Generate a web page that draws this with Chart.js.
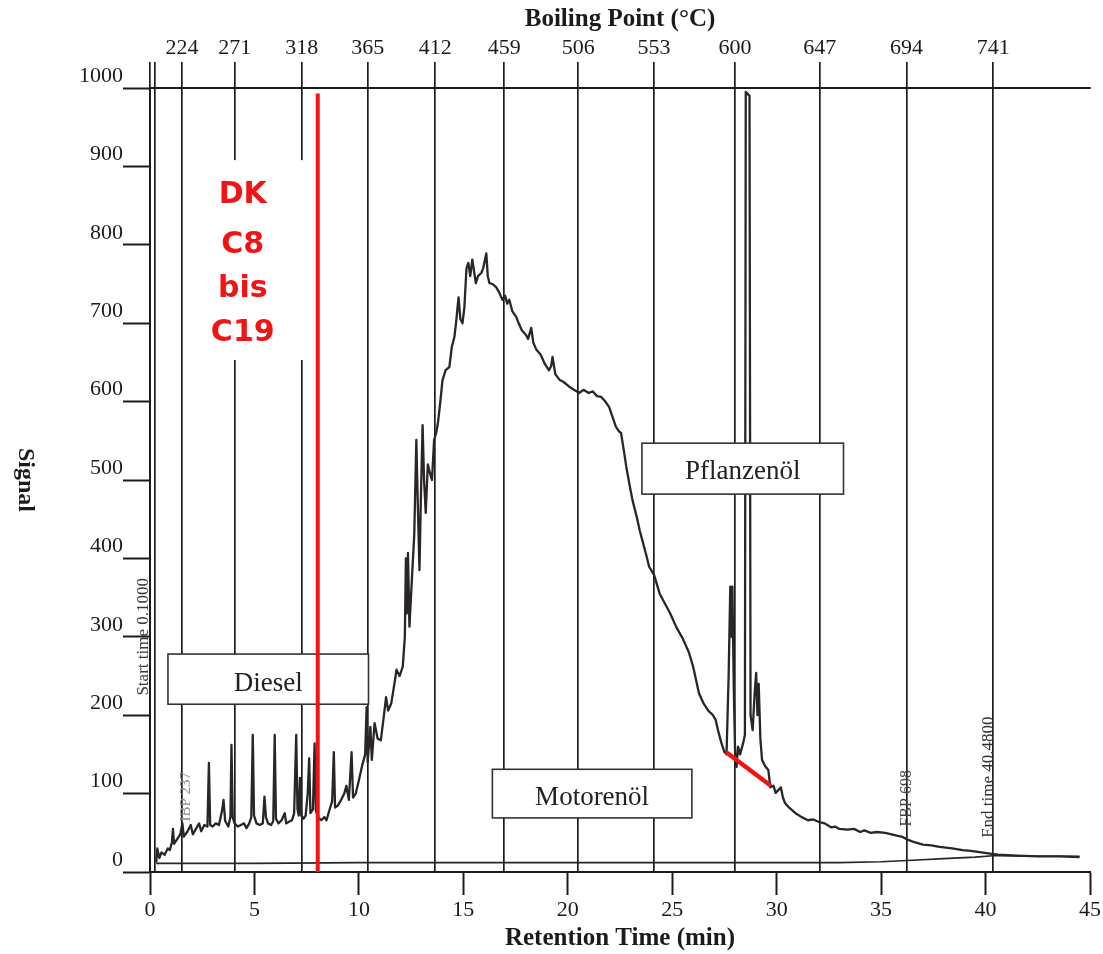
<!DOCTYPE html>
<html><head><meta charset="utf-8">
<script src="https://cdn.jsdelivr.net/npm/chart.js@4.4.1/dist/chart.umd.min.js"></script>
<style>html,body{margin:0;padding:0;background:#fff}#wrap{width:1103px;height:954px;position:relative}</style>
</head><body><div id="wrap"><canvas id="c"></canvas></div>
<script>
// ---- data ----
const retentionTime = [
0.30,0.35,0.45,0.55,0.70,0.85,0.95,1.05,1.10,1.15,1.30,1.45,1.55,1.62,1.80,1.95,2.05,2.20,2.35,2.45,
2.60,2.75,2.82,2.88,3.00,3.15,3.30,3.45,3.52,3.60,3.75,3.85,3.90,3.96,4.05,4.20,4.35,4.50,4.62,4.75,
4.85,4.92,4.98,5.10,5.25,5.40,5.48,5.55,5.65,5.80,5.90,5.97,6.03,6.15,6.30,6.45,6.52,6.65,6.80,6.90,
7.00,7.06,7.12,7.18,7.24,7.35,7.45,7.55,7.62,7.68,7.80,7.88,7.94,8.05,8.20,8.35,8.45,8.60,8.72,8.80,
8.86,9.00,9.15,9.30,9.40,9.52,9.65,9.72,9.85,10.00,10.15,10.30,10.37,10.42,10.55,10.62,10.75,10.90,11.05,11.20,
11.30,11.40,11.55,11.70,11.80,11.95,12.10,12.20,12.25,12.30,12.35,12.42,12.55,12.65,12.75,12.82,12.90,12.97,13.05,13.12,
13.20,13.30,13.40,13.50,13.60,13.70,13.78,13.90,14.00,14.15,14.33,14.45,14.57,14.65,14.77,14.86,14.96,15.05,15.15,15.24,
15.33,15.43,15.52,15.60,15.70,15.86,15.95,16.10,16.17,16.25,16.40,16.57,16.70,16.87,17.00,17.10,17.20,17.35,17.53,17.65,
17.80,18.00,18.10,18.25,18.35,18.50,18.70,18.90,19.10,19.20,19.27,19.40,19.60,19.80,20.07,20.30,20.55,20.75,21.00,21.20,
21.40,21.60,21.80,21.98,22.15,22.30,22.45,22.55,22.70,22.80,22.95,23.10,23.30,23.45,23.57,23.75,23.90,24.13,24.40,24.70,
24.90,25.20,25.50,25.80,26.00,26.28,26.50,26.75,26.95,27.08,27.20,27.35,27.50,27.60,27.70,27.78,27.84,27.88,27.95,28.02,
28.08,28.15,28.25,28.40,28.48,28.52,28.70,28.75,28.85,28.95,29.02,29.08,29.14,29.22,29.30,29.45,29.60,29.70,29.85,29.95,
30.10,30.20,30.30,30.40,30.60,30.90,31.20,31.50,31.75,32.00,32.30,32.60,32.80,33.00,33.40,33.70,34.00,34.20,34.50,34.80,
35.20,35.50,35.80,36.00,36.30,36.60,37.00,37.40,37.80,38.40,38.90,39.30,39.80,40.30,40.60,41.50,42.50,43.50,44.50
];
const signal = [
12,30,18,25,22,30,28,38,55,36,42,48,62,45,52,60,48,55,62,52,
60,58,139,60,58,62,60,78,92,65,58,70,162,70,62,58,60,62,56,62,
70,175,72,62,60,62,96,70,62,60,65,175,68,62,66,75,62,64,66,75,
175,80,72,120,72,68,72,100,145,75,80,164,78,70,66,70,66,80,90,153,
82,85,92,100,110,92,153,95,100,117,135,150,210,140,185,143,190,170,168,200,
223,206,215,240,258,250,262,300,400,330,407,313,380,430,551,470,385,480,570,500,
458,520,509,500,551,560,572,600,627,640,644,670,682,700,733,705,700,720,770,777,
760,781,765,751,760,764,770,789,760,751,750,746,740,730,735,725,730,715,708,700,
691,685,680,694,675,666,660,648,640,645,657,635,628,625,619,615,611,615,611,613,
607,606,600,593,580,568,562,560,535,517,495,474,453,435,423,405,389,379,355,340,
330,312,298,280,262,228,215,205,200,194,180,165,153,150,250,364,300,364,230,140,
134,160,150,165,175,995,990,200,181,230,254,200,240,170,143,135,130,108,110,101,
105,108,95,88,82,75,70,66,67,64,62,57,58,55,54,55,51,53,50,51,
50,48,46,45,41,38,35,34,32,30,28,27,25,23,22,21,20,20,19
];
const baselineTime   = [0.30, 5, 10, 15, 20, 25, 30, 33, 35, 36.5, 38, 39.5, 40.5, 42, 44.5];
const baselineSignal = [11, 11, 12, 12, 12, 12, 12, 12, 13, 15, 17, 19, 21, 20, 20];
const xTickValues = [0, 5, 10, 15, 20, 25, 30, 35, 40, 45];
const yTickValues = [0, 100, 200, 300, 400, 500, 600, 700, 800, 900, 1000];
const boilingPointTimes  = [0, 0.25, 1.53, 4.06, 7.26, 10.42, 13.66, 16.96, 20.50, 24.13, 28.00, 32.06, 36.22, 40.37];
const boilingPointLabels = ['', '', '224', '271', '318', '365', '412', '459', '506', '553', '600', '647', '694', '741'];
const markerTime   = [8.03, 8.03];
const markerSignal = [0, 993];
const cutTime   = [27.57, 29.72];
const cutSignal = [153, 110];
const dkLines = ['DK', 'C8', 'bis', 'C19'];
const boxLabels = ['Diesel', 'Pflanzenöl', 'Motorenöl'];
const sideNotes = ['Start time 0.1000', 'IBP 237', 'FBP 698', 'End time 40.4800'];

// ---- layout / style (annotation placement in data units) ----
const boxGeom = [
  {t0: 0.86, t1: 10.46, s0: 214, s1: 278, sText: 231},
  {t0: 23.55, t1: 33.2, s0: 482, s1: 547, sText: 501},
  {t0: 16.39, t1: 25.94, s0: 69, s1: 131, sText: 85.5}
];
const dkGeom = {t0: 1.62, t1: 7.42, s0: 653, s1: 908, tText: 4.44, sText: [853, 790, 734, 677]};
const noteGeom = [
  {t: -0.33, s: 300, size: 17, color: '#3a3a3a'},
  {t: 1.72, s: 96, size: 15, color: '#8a8a8a'},
  {t: 36.22, s: 94, size: 16, color: '#444'},
  {t: 40.13, s: 121, size: 17, color: '#333'}
];

const zip = (a, b) => a.map((v, i) => ({x: v, y: b[i]}));
const SERIF = "'Liberation Serif', 'Times New Roman', serif";
const INK = '#1c1a1b';

const decor = {
  id: 'decor',
  beforeDatasetsDraw(chart) {
    const {ctx, scales: {x, y}} = chart;
    ctx.save();
    const l = x.getPixelForValue(dkGeom.t0), r = x.getPixelForValue(dkGeom.t1);
    const t = y.getPixelForValue(dkGeom.s1), b = y.getPixelForValue(dkGeom.s0);
    ctx.fillStyle = '#fff';
    ctx.fillRect(l, t, r - l, b - t);
    ctx.fillStyle = '#f01414';
    ctx.font = "bold 30px 'DejaVu Sans', sans-serif";
    ctx.textAlign = 'center';
    ctx.textBaseline = 'alphabetic';
    dkLines.forEach((s, i) => ctx.fillText(s, x.getPixelForValue(dkGeom.tText), y.getPixelForValue(dkGeom.sText[i])));
    sideNotes.forEach((s, i) => {
      const g = noteGeom[i];
      ctx.save();
      ctx.translate(x.getPixelForValue(g.t), y.getPixelForValue(g.s));
      ctx.rotate(-Math.PI / 2);
      ctx.font = g.size + 'px ' + SERIF;
      ctx.fillStyle = g.color;
      ctx.textAlign = 'center';
      ctx.textBaseline = 'middle';
      ctx.fillText(s, 0, 0);
      ctx.restore();
    });
    ctx.restore();
  },
  afterDatasetDraw(chart, args) {
    if (args.index !== 2) return;
    const {ctx, scales: {x, y}} = chart;
    ctx.save();
    boxLabels.forEach((s, i) => {
      const g = boxGeom[i];
      const l = x.getPixelForValue(g.t0), r = x.getPixelForValue(g.t1);
      const t = y.getPixelForValue(g.s1), b = y.getPixelForValue(g.s0);
      ctx.fillStyle = '#fff';
      ctx.fillRect(l, t, r - l, b - t);
      ctx.strokeStyle = '#333';
      ctx.lineWidth = 1.6;
      ctx.strokeRect(l, t, r - l, b - t);
      ctx.fillStyle = '#222';
      ctx.font = '27px ' + SERIF;
      ctx.textAlign = 'center';
      ctx.textBaseline = 'alphabetic';
      ctx.fillText(s, (l + r) / 2, y.getPixelForValue(g.sText));
    });
    ctx.restore();
  },
  afterDraw(chart) {
    const {ctx, scales: {y}} = chart;
    ctx.save();
    ctx.translate(25, (y.top + y.bottom) / 2);
    ctx.rotate(Math.PI / 2);
    ctx.font = 'bold 24px ' + SERIF;
    ctx.fillStyle = INK;
    ctx.textAlign = 'center';
    ctx.textBaseline = 'middle';
    ctx.fillText('Signal', 0, 0);
    ctx.restore();
  }
};

new Chart(document.getElementById('c'), {
  type: 'scatter',
  data: {
    datasets: [
      {label: 'marker', data: zip(markerTime, markerSignal), showLine: true, borderColor: '#f01414', borderWidth: 4, pointRadius: 0, order: 0},
      {label: 'cut', data: zip(cutTime, cutSignal), showLine: true, borderColor: '#f01414', borderWidth: 4.5, pointRadius: 0, order: 0},
      {label: 'trace', data: zip(retentionTime, signal), showLine: true, borderColor: '#2a2527', borderWidth: 2.3, pointRadius: 0, tension: 0, borderJoinStyle: 'round', order: 0},
      {label: 'baseline', data: zip(baselineTime, baselineSignal), showLine: true, borderColor: '#2a2527', borderWidth: 1.6, pointRadius: 0, order: 0}
    ]
  },
  options: {
    responsive: true,
    maintainAspectRatio: false,
    animation: false,
    layout: {padding: {left: 0, right: 11, top: 0, bottom: 0}},
    plugins: {legend: {display: false}, tooltip: {enabled: false}},
    scales: {
      x: {
        type: 'linear', position: 'bottom', min: 0, max: 45,
        afterBuildTicks: s => { s.ticks = xTickValues.map(v => ({value: v})); },
        afterFit: s => { s.height = 82; },
        ticks: {color: INK, font: {family: SERIF, size: 22}, padding: 2, autoSkip: false, maxRotation: 0, callback: v => String(v)},
        grid: {drawOnChartArea: false, tickLength: 23, tickColor: INK, tickWidth: 2},
        border: {display: true, color: INK, width: 2},
        title: {display: true, text: 'Retention Time (min)', color: INK, font: {family: SERIF, size: 25, weight: 'bold'}, padding: {top: 0, bottom: 0}}
      },
      x2: {
        type: 'linear', position: 'top', min: 0, max: 45,
        afterBuildTicks: s => { s.ticks = boilingPointTimes.map(v => ({value: v})); },
        afterFit: s => { s.height = 88; },
        ticks: {color: INK, font: {family: SERIF, size: 22}, padding: 1, autoSkip: false, maxRotation: 0,
          callback: (v, i) => boilingPointLabels[i]},
        grid: {drawOnChartArea: true, color: '#1e1c1d', lineWidth: 1.7, tickLength: 26, tickColor: '#1e1c1d', tickWidth: 1.7},
        border: {display: true, color: INK, width: 2},
        title: {display: true, text: 'Boiling Point (°C)', color: INK, font: {family: SERIF, size: 25, weight: 'bold'}, padding: {top: 5, bottom: 0}}
      },
      y: {
        type: 'linear', position: 'left', min: 0, max: 1000,
        afterBuildTicks: s => { s.ticks = yTickValues.map(v => ({value: v})); },
        afterFit: s => { s.width = 150; },
        ticks: {color: INK, font: {family: SERIF, size: 22}, padding: 0, labelOffset: -12, callback: v => String(v)},
        grid: {drawOnChartArea: false, tickLength: 27, tickColor: INK, tickWidth: 2},
        border: {display: true, color: INK, width: 2}
      }
    }
  },
  plugins: [decor]
});
</script></body></html>
